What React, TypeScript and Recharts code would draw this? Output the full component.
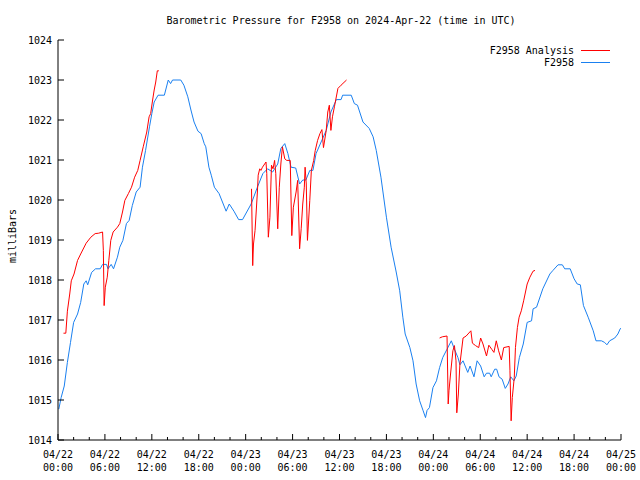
import React from "react";
import { Line, LineChart, XAxis, YAxis } from "recharts";

// hours since 2024-04-22 00:00 UTC, pressure in mbar
const stationReadings: [number, number][] = [
  [0.1, 1014.77], [0.4, 1015.06], [0.8, 1015.35], [1.2, 1015.94], [1.6, 1016.44], [2.0, 1016.94],
  [2.5, 1017.15], [2.9, 1017.44], [3.3, 1017.9], [3.6, 1017.98], [3.8, 1017.88], [4.3, 1018.19],
  [4.8, 1018.28], [5.4, 1018.28], [5.7, 1018.39], [6.2, 1018.39], [6.4, 1018.28], [6.8, 1018.39],
  [7.1, 1018.28], [7.6, 1018.57], [7.9, 1018.82], [8.3, 1018.99], [8.75, 1019.41], [9.1, 1019.49],
  [9.5, 1019.86], [10.0, 1020.2], [10.5, 1020.32], [10.8, 1020.82], [11.2, 1021.24], [11.7, 1021.83],
  [12.0, 1022.16], [12.3, 1022.45], [12.8, 1022.62], [13.6, 1022.62], [14.1, 1023.0], [14.4, 1022.91],
  [14.65, 1023.0], [15.7, 1023.0], [16.1, 1022.87], [16.6, 1022.58], [17.0, 1022.25], [17.4, 1021.95],
  [17.9, 1021.72], [18.3, 1021.66], [18.7, 1021.41], [18.9, 1021.33], [19.3, 1020.82], [19.6, 1020.62],
  [20.0, 1020.32], [20.6, 1020.16], [21.5, 1019.72], [21.9, 1019.9], [22.5, 1019.72], [23.1, 1019.51],
  [23.6, 1019.51], [24.7, 1019.9], [25.5, 1020.32], [26.2, 1020.66], [26.8, 1020.78], [27.45, 1020.7],
  [28.1, 1020.9], [28.5, 1021.29], [29.0, 1021.41], [29.4, 1021.16], [29.8, 1020.82], [30.4, 1020.8],
  [30.9, 1020.4], [31.3, 1020.5], [31.7, 1020.5], [32.2, 1020.74], [32.6, 1020.74], [33.0, 1021.16],
  [33.65, 1021.45], [34.3, 1021.74], [34.9, 1022.2], [35.6, 1022.51], [36.2, 1022.51], [36.4, 1022.62],
  [37.5, 1022.62], [37.9, 1022.41], [38.3, 1022.37], [39.0, 1021.95], [39.8, 1021.79], [40.3, 1021.58],
  [40.7, 1021.24], [41.3, 1020.57], [42.0, 1019.57], [42.6, 1018.82], [43.25, 1018.2], [43.7, 1017.73],
  [44.1, 1017.07], [44.4, 1016.65], [45.0, 1016.31], [45.4, 1015.98], [45.8, 1015.4], [46.25, 1014.98],
  [46.7, 1014.73], [47.0, 1014.56], [47.2, 1014.74], [47.5, 1014.81], [47.95, 1015.31], [48.4, 1015.48],
  [48.8, 1015.81], [49.2, 1016.06], [49.75, 1016.27], [50.3, 1016.48], [50.7, 1016.27], [51.15, 1016.06],
  [51.4, 1015.88], [51.8, 1015.98], [52.4, 1015.69], [52.7, 1015.85], [53.2, 1015.58], [53.6, 1015.98],
  [54.05, 1015.85], [54.5, 1015.58], [54.8, 1015.67], [55.2, 1015.67], [55.4, 1015.58], [55.85, 1015.77],
  [56.1, 1015.77], [56.4, 1015.58], [56.8, 1015.52], [57.2, 1015.29], [57.55, 1015.4], [57.9, 1015.58],
  [58.3, 1015.48], [58.6, 1015.6], [59.0, 1016.06], [59.5, 1016.4], [60.0, 1016.94], [60.56, 1016.98],
  [60.76, 1017.28], [61.2, 1017.32], [62.0, 1017.78], [62.9, 1018.15], [63.3, 1018.24], [63.95, 1018.38],
  [64.5, 1018.38], [64.8, 1018.28], [65.5, 1018.28], [66.0, 1018.03], [66.4, 1017.9], [66.8, 1017.88],
  [67.2, 1017.36], [67.8, 1017.07], [68.45, 1016.73], [68.8, 1016.48], [69.5, 1016.48], [69.9, 1016.44],
  [70.2, 1016.38], [70.55, 1016.48], [71.2, 1016.55], [71.6, 1016.65], [71.9, 1016.78], [72.0, 1016.8],
];

// analysis comes in three runs, null marks the gaps
const analysisReadings: [number, number | null][] = [
  [0.7, 1016.67], [1.0, 1016.67], [1.2, 1017.22], [1.5, 1017.65], [1.7, 1017.98], [2.05, 1018.15],
  [2.5, 1018.49], [2.9, 1018.65], [3.6, 1018.92], [4.2, 1019.07], [4.75, 1019.16], [5.2, 1019.17],
  [5.7, 1019.2], [5.8, 1018.74], [5.9, 1017.36], [6.05, 1017.82], [6.3, 1018.07], [6.5, 1018.49],
  [6.75, 1018.99], [7.05, 1019.2], [7.6, 1019.32], [7.9, 1019.41], [8.25, 1019.7], [8.55, 1019.99],
  [9.0, 1020.16], [9.4, 1020.32], [9.8, 1020.57], [10.2, 1020.74], [10.5, 1020.99], [10.9, 1021.33],
  [11.35, 1021.7], [11.65, 1022.08], [11.85, 1022.16], [12.1, 1022.5], [12.3, 1022.75], [12.5, 1022.95],
  [12.7, 1023.23], [12.9, 1023.23],
  [18.0, null],
  [24.75, 1020.28], [24.9, 1018.36], [25.0, 1018.9], [25.2, 1019.24], [25.5, 1020.2], [25.6, 1020.62],
  [25.8, 1020.78], [25.95, 1020.74], [26.15, 1020.82], [26.6, 1020.95], [26.7, 1020.66], [26.9, 1019.07],
  [27.1, 1019.57], [27.3, 1020.87], [27.5, 1020.78], [27.7, 1020.99], [27.85, 1020.66], [28.1, 1019.28],
  [28.3, 1020.32], [28.5, 1020.9], [28.7, 1021.33], [29.0, 1021.03], [29.25, 1020.99], [29.7, 1020.99],
  [29.9, 1019.11], [30.1, 1019.82], [30.45, 1020.2], [30.65, 1020.49], [30.9, 1018.78], [31.1, 1019.28],
  [31.3, 1019.9], [31.5, 1020.32], [31.6, 1020.82], [31.75, 1020.4], [31.9, 1018.99], [32.2, 1019.99],
  [32.4, 1020.74], [32.7, 1020.99], [32.9, 1021.24], [33.2, 1021.49], [33.5, 1021.66], [33.75, 1021.76],
  [33.95, 1021.31], [34.3, 1021.74], [34.5, 1022.2], [34.7, 1022.37], [34.9, 1021.74], [35.1, 1022.08],
  [35.35, 1022.33], [35.8, 1022.79], [36.2, 1022.87], [36.9, 1023.0],
  [42.0, null],
  [48.8, 1016.55], [49.15, 1016.58], [49.75, 1016.6], [49.9, 1014.9], [50.0, 1015.23], [50.2, 1015.65],
  [50.5, 1016.23], [50.7, 1016.36], [50.9, 1015.98], [51.0, 1014.68], [51.2, 1015.15], [51.4, 1015.9],
  [51.8, 1016.55], [52.2, 1016.6], [52.8, 1016.73], [53.0, 1016.42], [53.4, 1016.36], [53.8, 1016.31],
  [54.05, 1016.55], [54.35, 1016.4], [54.8, 1016.1], [55.1, 1016.37], [55.5, 1016.26], [55.75, 1016.19],
  [56.05, 1016.48], [56.35, 1016.23], [56.7, 1016.0], [57.0, 1016.31], [57.7, 1016.34], [57.8, 1015.73],
  [57.95, 1014.48], [58.1, 1015.06], [58.35, 1015.56], [58.5, 1016.31], [58.75, 1016.81], [58.97, 1017.07],
  [59.25, 1017.23], [59.55, 1017.48], [60.0, 1017.9], [60.35, 1018.07], [60.75, 1018.22], [61.0, 1018.24],
];

const hourTicks = [0, 2, 4, 6, 8, 10, 12, 14, 16, 18, 20, 22, 24, 26, 28, 30, 32, 34, 36,
  38, 40, 42, 44, 46, 48, 50, 52, 54, 56, 58, 60, 62, 64, 66, 68, 70, 72];
const dayLabels = ["04/22", "04/23", "04/24", "04/25"];
const mbTicks = [1014, 1015, 1016, 1017, 1018, 1019, 1020, 1021, 1022, 1023, 1024];

const FONT = "'DejaVu Sans Mono', monospace";
const RED = "#ff0000";
const BLUE = "#1a80f0";

const stationData = stationReadings.map(([h, mb]) => ({ h, mb }));
const analysisData = analysisReadings.map(([h, mb]) => ({ h, mb }));

function BottomTick({ x, y, payload }: any) {
  const h = payload.value;
  const major = h % 6 === 0;
  const day = dayLabels[Math.floor(h / 24)];
  const time = String(h % 24).padStart(2, "0") + ":00";
  return (
    <g>
      <line x1={x} x2={x} y1={y} y2={y - (major ? 6 : 3)} stroke="#000" />
      {major && (
        <text x={x} y={y + 18} textAnchor="middle" fontFamily={FONT} fontSize={10} fill="#000">
          <tspan x={x}>{day}</tspan>
          <tspan x={x} dy={13}>{time}</tspan>
        </text>
      )}
    </g>
  );
}

function TopTick({ x, y, payload }: any) {
  const major = payload.value % 6 === 0;
  return <line x1={x} x2={x} y1={y} y2={y + (major ? 6 : 3)} stroke="#000" />;
}

function LeftTick({ x, y, payload }: any) {
  return (
    <g>
      <line x1={x} x2={x + 6} y1={y} y2={y} stroke="#000" />
      <text x={x - 6} y={y + 4} textAnchor="end" fontFamily={FONT} fontSize={10} fill="#000">
        {payload.value}
      </text>
    </g>
  );
}

function RightTick({ x, y }: any) {
  return <line x1={x} x2={x - 6} y1={y} y2={y} stroke="#000" />;
}

export default function App() {
  return (
    <div style={{ position: "fixed", left: 0, top: 0, width: 640, height: 480, background: "#fff" }}>
      <LineChart width={640} height={480} margin={{ top: 40, right: 19, bottom: 5, left: 8 }}>
        <XAxis
          type="number"
          dataKey="h"
          domain={[0, 72]}
          ticks={hourTicks}
          interval={0}
          height={35}
          tickSize={0}
          tickMargin={0}
          tick={<BottomTick />}
          axisLine={{ stroke: "#000" }}
          allowDataOverflow
        />
        <XAxis
          xAxisId="top"
          orientation="top"
          type="number"
          dataKey="h"
          domain={[0, 72]}
          ticks={hourTicks}
          interval={0}
          height={0}
          tickSize={0}
          tickMargin={0}
          tick={<TopTick />}
          axisLine={{ stroke: "#000" }}
          allowDataOverflow
        />
        <YAxis
          domain={[1014, 1024]}
          ticks={mbTicks}
          interval={0}
          width={50}
          tickSize={0}
          tickMargin={0}
          tick={<LeftTick />}
          axisLine={{ stroke: "#000" }}
          allowDataOverflow
        />
        <YAxis
          yAxisId="right"
          orientation="right"
          domain={[1014, 1024]}
          ticks={mbTicks}
          interval={0}
          width={0}
          tickSize={0}
          tickMargin={0}
          tick={<RightTick />}
          axisLine={{ stroke: "#000" }}
          allowDataOverflow
        />
        <Line
          data={stationData}
          dataKey="mb"
          type="linear"
          stroke={BLUE}
          strokeWidth={1}
          dot={false}
          activeDot={false}
          isAnimationActive={false}
        />
        <Line
          data={analysisData}
          dataKey="mb"
          type="linear"
          stroke={RED}
          strokeWidth={1}
          dot={false}
          activeDot={false}
          isAnimationActive={false}
        />
      </LineChart>
      <svg
        width={640}
        height={480}
        style={{ position: "absolute", left: 0, top: 0, pointerEvents: "none" }}
        fontFamily={FONT}
        fontSize={10}
      >
        <text x={341} y={24} textAnchor="middle">
          Barometric Pressure for F2958 on 2024-Apr-22 (time in UTC)
        </text>
        <text x={16} y={236} textAnchor="middle" transform="rotate(-90 16 236)">
          milliBars
        </text>
        <text x={574} y={54} textAnchor="end">F2958 Analysis</text>
        <line x1={581} x2={610} y1={50.5} y2={50.5} stroke={RED} />
        <text x={574} y={66} textAnchor="end">F2958</text>
        <line x1={581} x2={610} y1={62.5} y2={62.5} stroke={BLUE} />
      </svg>
    </div>
  );
}
